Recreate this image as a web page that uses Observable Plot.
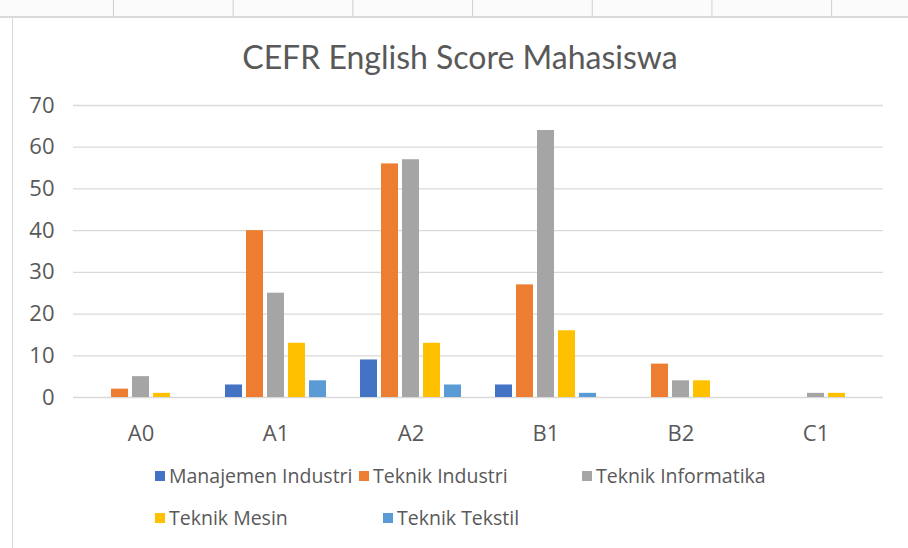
<!DOCTYPE html>
<html><head><meta charset="utf-8">
<script src="https://cdn.jsdelivr.net/npm/d3@7"></script>
<script src="https://cdn.jsdelivr.net/npm/@observablehq/plot@0.6"></script>
<style>
html,body{margin:0;padding:0;background:#fff;width:908px;height:548px;overflow:hidden;position:relative;font-family:"Open Sans",sans-serif;}
#sheet{position:absolute;left:0;top:0;width:908px;height:16px;background:#fbfbfb;
  background-image:linear-gradient(to right,#cfcfcf 1px,transparent 1px);background-size:119.7px 100%;background-position:113px 0;
  border-bottom:2px solid #dadada;}
#frame{position:absolute;left:12px;top:18px;width:900px;height:530px;border-left:1px solid #d9d9d9;background:#fff;}
#title{position:absolute;left:12px;right:0;top:37px;text-align:center;font-family:Lato,sans-serif;font-size:32px;color:#595959;}
#plot{position:absolute;left:0;top:90px;}
.row{position:absolute;left:155px;display:flex;align-items:center;font-size:19.5px;color:#595959;white-space:nowrap;}
.item{display:flex;align-items:center;}
.sw{display:inline-block;width:10px;height:10px;margin-right:4px;}
</style>
</head><body>
<div id="sheet"></div>
<div id="frame"></div>
<div id="title">CEFR English Score Mahasiswa</div>
<div id="plot"></div>
<div id="legend"></div>
<script>
const categories = ["A0", "A1", "A2", "B1", "B2", "C1"];
const series = ["Manajemen Industri", "Teknik Industri", "Teknik Informatika", "Teknik Mesin", "Teknik Tekstil"];
const colors = ["#4472C4", "#ED7D31", "#A5A5A5", "#FFC000", "#5B9BD5"];
const manajemenIndustri = [0, 3, 9, 3, 0, 0];
const teknikIndustri = [2, 40, 56, 27, 8, 0];
const teknikInformatika = [5, 25, 57, 64, 4, 1];
const teknikMesin = [1, 13, 13, 16, 4, 1];
const teknikTekstil = [0, 4, 3, 1, 0, 0];
const yTicks = [0, 10, 20, 30, 40, 50, 60, 70];

const values = [manajemenIndustri, teknikIndustri, teknikInformatika, teknikMesin, teknikTekstil];
const data = [];
categories.forEach((c, i) => series.forEach((s, j) => data.push({cat: c, series: s, value: values[j][i]})));

const chart = Plot.plot({
  width: 908,
  height: 370,
  marginLeft: 72,
  marginRight: 25,
  marginTop: 15,
  marginBottom: 63,
  style: {fontFamily: "Open Sans, sans-serif", fontSize: "22px", color: "#595959", background: "transparent"},
  fx: {domain: categories, paddingInner: 0, paddingOuter: 0, label: null, tickSize: 0, tickPadding: 28},
  x: {domain: series, paddingInner: 0.2, paddingOuter: 0.8, axis: null},
  y: {domain: [0, 70], ticks: yTicks, tickSize: 0, tickPadding: 19, label: null},
  color: {domain: series, range: colors},
  marks: [
    Plot.ruleY(yTicks, {stroke: "#d9d9d9", strokeWidth: 1.3}),
    Plot.barY(data, {fx: "cat", x: "series", y: "value", fill: "series"})
  ]
});
d3.select(chart).selectAll("text").style("font-size", "22px");
document.getElementById("plot").appendChild(chart);

const legend = document.getElementById("legend");
const rows = [[0, 1, 2], [3, 4]];
const rowTops = [462, 504];
const itemWidths = [[204, 223, null], [228, null]];
rows.forEach((r, ri) => {
  const row = document.createElement("div");
  row.className = "row";
  row.style.top = rowTops[ri] + "px";
  r.forEach((si, k) => {
    const it = document.createElement("div");
    it.className = "item";
    if (itemWidths[ri][k]) it.style.width = itemWidths[ri][k] + "px";
    const sw = document.createElement("span");
    sw.className = "sw";
    sw.style.background = colors[si];
    it.appendChild(sw);
    it.appendChild(document.createTextNode(series[si]));
    row.appendChild(it);
  });
  legend.appendChild(row);
});
</script>
</body></html>
